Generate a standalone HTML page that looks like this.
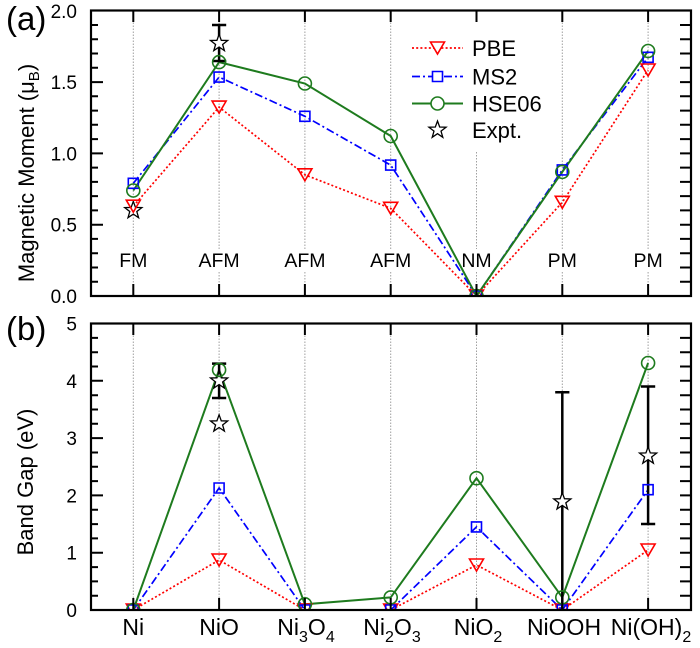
<!DOCTYPE html>
<html><head><meta charset="utf-8"><style>
html,body{margin:0;padding:0;background:#fff;}
svg{display:block;font-family:"Liberation Sans",Arial,sans-serif;}
</style></head><body>
<svg width="700" height="648" viewBox="0 0 700 648" xmlns="http://www.w3.org/2000/svg">
<defs>
<clipPath id="ca"><rect x="91" y="10.5" width="600" height="285.5"/></clipPath>
<clipPath id="cb"><rect x="91" y="323.5" width="600" height="286.5"/></clipPath>
</defs>
<rect width="700" height="648" fill="#fff"/>

<!-- ===== Panel (a) ===== -->
<g stroke="#a0a0a0" stroke-width="1" stroke-dasharray="1.5 1.5" fill="none">
<path d="M133.3 10.5V249M133.3 272V296M219.1 10.5V249M219.1 272V296M304.9 10.5V249M304.9 272V296M390.7 10.5V249M390.7 272V296M476.5 152V249M476.5 272V296M562.3 10.5V249M562.3 272V296M648.1 10.5V249M648.1 272V296"/>
</g>
<g font-size="19.5" text-anchor="middle" fill="#000">
<text x="133.3" y="267">FM</text>
<text x="219.1" y="267">AFM</text>
<text x="304.9" y="267">AFM</text>
<text x="390.7" y="267">AFM</text>
<text x="476.5" y="267">NM</text>
<text x="562.3" y="267">PM</text>
<text x="648.1" y="267">PM</text>
</g>

<g clip-path="url(#ca)" fill="none">
<polyline stroke="#ff0000" stroke-width="1.7" stroke-dasharray="2 2.2" points="133.3,206.2 219.1,107.1 304.9,174.8 390.7,208.3 476.5,296 562.3,202.3 648.1,70"/>
<polyline stroke="#0000ff" stroke-width="1.7" stroke-dasharray="8 3 2 3" points="133.3,183.3 219.1,77.1 304.9,116.3 390.7,165.1 476.5,296 562.3,169.9 648.1,57.3"/>
<polyline stroke="#1e7b1e" stroke-width="2" points="133.3,190.5 219.1,62.1 304.9,83.5 390.7,136 476.5,296 562.3,171.9 648.1,51"/>
<!-- error bar -->
<g stroke="#000" stroke-width="2.5">
<path d="M219.1 25V61M212 25H226.2M212 61H226.2"/>
</g>
<!-- stars -->
<g fill="#fff" stroke="#000" stroke-width="1.3">
<path transform="translate(133.3,210.4)" d="M0,-9 L2.18,-2.99 L8.56,-2.78 L3.52,1.14 L5.29,7.28 L0,3.7 L-5.29,7.28 L-3.52,1.14 L-8.56,-2.78 L-2.18,-2.99Z"/>
<path transform="translate(219.1,43.3)" d="M0,-9 L2.18,-2.99 L8.56,-2.78 L3.52,1.14 L5.29,7.28 L0,3.7 L-5.29,7.28 L-3.52,1.14 L-8.56,-2.78 L-2.18,-2.99Z"/>
</g>
<!-- PBE triangles -->
<g stroke="#ff0000" stroke-width="1.6">
<path d="M126.3 200.2h14l-7 12z M212.1 101.1h14l-7 12z M297.9 168.8h14l-7 12z M383.7 202.3h14l-7 12z M469.5 290h14l-7 12z M555.3 196.3h14l-7 12z M641.1 64h14l-7 12z"/>
</g>
<!-- MS2 squares -->
<g stroke="#0000ff" stroke-width="1.6">
<path d="M128.3 178.3h10v10h-10z M214.1 72.1h10v10h-10z M299.9 111.3h10v10h-10z M385.7 160.1h10v10h-10z M471.5 291h10v10h-10z M557.3 164.9h10v10h-10z M643.1 52.3h10v10h-10z"/>
</g>
<!-- HSE circles -->
<g stroke="#1e7b1e" stroke-width="1.6">
<circle cx="133.3" cy="190.5" r="6.5"/><circle cx="219.1" cy="62.1" r="6.5"/><circle cx="304.9" cy="83.5" r="6.5"/><circle cx="390.7" cy="136" r="6.5"/><circle cx="476.5" cy="296" r="6.5"/><circle cx="562.3" cy="171.9" r="6.5"/><circle cx="648.1" cy="51" r="6.5"/>
</g>
</g>

<!-- legend -->
<g>
<path d="M412 48H463" stroke="#ff0000" stroke-width="1.7" stroke-dasharray="2 2.2"/>
<path d="M430.5 42h14l-7 12z" fill="#fff" stroke="#ff0000" stroke-width="1.6"/>
<path d="M412 76.5H463" stroke="#0000ff" stroke-width="1.7" stroke-dasharray="8 3 2 3"/>
<path d="M432.5 71.5h10v10h-10z" fill="#fff" stroke="#0000ff" stroke-width="1.6"/>
<path d="M412 103.5H463" stroke="#1e7b1e" stroke-width="2"/>
<circle cx="437.5" cy="103.5" r="6.5" fill="#fff" stroke="#1e7b1e" stroke-width="1.6"/>
<path transform="translate(437.5,130)" fill="#fff" stroke="#000" stroke-width="1.3" d="M0,-9 L2.18,-2.99 L8.56,-2.78 L3.52,1.14 L5.29,7.28 L0,3.7 L-5.29,7.28 L-3.52,1.14 L-8.56,-2.78 L-2.18,-2.99Z"/>
<g font-size="22" fill="#000">
<text x="472" y="56">PBE</text>
<text x="472" y="84.5">MS2</text>
<text x="472" y="111.5">HSE06</text>
<text x="472" y="138">Expt.</text>
</g>
</g>

<!-- frame & ticks (a) -->
<g stroke="#000" stroke-width="2" fill="none">
<path d="M98 281.7H91M98 267.5H91M98 253.2H91M98 238.9H91M103 224.7H91M98 210.4H91M98 196.1H91M98 181.9H91M98 167.6H91M103 153.4H91M98 139.1H91M98 124.8H91M98 110.6H91M98 96.3H91M103 82.1H91M98 67.8H91M98 53.5H91M98 39.3H91M98 25H91"/>
<path d="M680 281.7H691M680 267.5H691M680 253.2H691M680 238.9H691M680 224.7H691M680 210.4H691M680 196.1H691M680 181.9H691M680 167.6H691M680 153.4H691M680 139.1H691M680 124.8H691M680 110.6H691M680 96.3H691M680 82.1H691M680 67.8H691M680 53.5H691M680 39.3H691M680 25H691"/>
<path d="M133.3 10.5V22M219.1 10.5V22M304.9 10.5V22M390.7 10.5V22M476.5 10.5V22M562.3 10.5V22M648.1 10.5V22"/>
<path d="M133.3 296V284M219.1 296V284M304.9 296V284M390.7 296V284M476.5 296V284M562.3 296V284M648.1 296V284"/>
</g>
<rect x="91" y="10.5" width="600" height="285.5" fill="none" stroke="#000" stroke-width="2.2"/>
<g font-size="19" text-anchor="end" fill="#000">
<text x="77" y="303">0.0</text>
<text x="77" y="231.7">0.5</text>
<text x="77" y="160.4">1.0</text>
<text x="77" y="89.1">1.5</text>
<text x="77" y="17.8">2.0</text>
</g>
<text transform="translate(34,173) rotate(-90)" font-size="22" text-anchor="middle" fill="#000">Magnetic Moment (μ<tspan font-size="15" dy="5">B</tspan><tspan dy="-5">)</tspan></text>
<text x="6" y="30" font-size="33" fill="#000">(a)</text>

<!-- ===== Panel (b) ===== -->
<g stroke="#a0a0a0" stroke-width="1" stroke-dasharray="1.5 1.5" fill="none">
<path d="M133.3 323.5V610M219.1 323.5V610M304.9 323.5V610M390.7 323.5V610M476.5 323.5V610M562.3 323.5V610M648.1 323.5V610"/>
</g>
<g clip-path="url(#cb)" fill="none">
<polyline stroke="#ff0000" stroke-width="1.7" stroke-dasharray="2 2.2" points="133.3,610 219.1,560 304.9,610 390.7,610 476.5,565 562.3,610 648.1,550"/>
<polyline stroke="#0000ff" stroke-width="1.7" stroke-dasharray="8 3 2 3" points="133.3,610 219.1,488 304.9,610 390.7,610 476.5,526.9 562.3,610 648.1,489.7"/>
<polyline stroke="#1e7b1e" stroke-width="2" points="133.3,610 219.1,369.9 304.9,604.3 390.7,597.4 476.5,478.2 562.3,597.4 648.1,363"/>
<g stroke="#000" stroke-width="2.5">
<path d="M219.1 363.6V398M212 363.6H226.2M212 398H226.2"/>
<path d="M562.3 392.3V612M555.2 392.3H569.4"/>
<path d="M648.1 386.5V524M641 386.5H655.2M641 524H655.2"/>
</g>
<g fill="#fff" stroke="#000" stroke-width="1.3">
<path transform="translate(219.1,380.8)" d="M0,-9 L2.18,-2.99 L8.56,-2.78 L3.52,1.14 L5.29,7.28 L0,3.7 L-5.29,7.28 L-3.52,1.14 L-8.56,-2.78 L-2.18,-2.99Z"/>
<path transform="translate(219.1,423.8)" d="M0,-9 L2.18,-2.99 L8.56,-2.78 L3.52,1.14 L5.29,7.28 L0,3.7 L-5.29,7.28 L-3.52,1.14 L-8.56,-2.78 L-2.18,-2.99Z"/>
<path transform="translate(562.3,501.7)" d="M0,-9 L2.18,-2.99 L8.56,-2.78 L3.52,1.14 L5.29,7.28 L0,3.7 L-5.29,7.28 L-3.52,1.14 L-8.56,-2.78 L-2.18,-2.99Z"/>
<path transform="translate(648.1,455.9)" d="M0,-9 L2.18,-2.99 L8.56,-2.78 L3.52,1.14 L5.29,7.28 L0,3.7 L-5.29,7.28 L-3.52,1.14 L-8.56,-2.78 L-2.18,-2.99Z"/>
</g>
<g stroke="#ff0000" stroke-width="1.6">
<path d="M126.3 604h14l-7 12z M212.1 554h14l-7 12z M297.9 604h14l-7 12z M383.7 604h14l-7 12z M469.5 559h14l-7 12z M555.3 604h14l-7 12z M641.1 544h14l-7 12z"/>
</g>
<g stroke="#0000ff" stroke-width="1.6">
<path d="M128.3 605h10v10h-10z M214.1 483h10v10h-10z M299.9 605h10v10h-10z M385.7 605h10v10h-10z M471.5 521.9h10v10h-10z M557.3 605h10v10h-10z M643.1 484.7h10v10h-10z"/>
</g>
<g stroke="#1e7b1e" stroke-width="1.6">
<circle cx="133.3" cy="610" r="6.5"/><circle cx="219.1" cy="369.9" r="6.5"/><circle cx="304.9" cy="604.3" r="6.5"/><circle cx="390.7" cy="597.4" r="6.5"/><circle cx="476.5" cy="478.2" r="6.5"/><circle cx="562.3" cy="597.4" r="6.5"/><circle cx="648.1" cy="363" r="6.5"/>
</g>
</g>

<g stroke="#000" stroke-width="2" fill="none">
<path d="M98 595.7H91M98 581.4H91M98 567.1H91M103 552.7H91M98 538.4H91M98 524.1H91M98 509.8H91M103 495.4H91M98 481.1H91M98 466.8H91M98 452.5H91M103 438.1H91M98 423.8H91M98 409.5H91M98 395.2H91M103 380.8H91M98 366.5H91M98 352.2H91M98 337.9H91"/>
<path d="M680 595.7H691M680 581.4H691M680 567.1H691M680 552.7H691M680 538.4H691M680 524.1H691M680 509.8H691M680 495.4H691M680 481.1H691M680 466.8H691M680 452.5H691M680 438.1H691M680 423.8H691M680 409.5H691M680 395.2H691M680 380.8H691M680 366.5H691M680 352.2H691M680 337.9H691"/>
<path d="M133.3 323.5V335M219.1 323.5V335M304.9 323.5V335M390.7 323.5V335M476.5 323.5V335M562.3 323.5V335M648.1 323.5V335"/>
<path d="M133.3 610V598M219.1 610V598M304.9 610V598M390.7 610V598M476.5 610V598M562.3 610V598M648.1 610V598"/>
</g>
<rect x="91" y="323.5" width="600" height="286.5" fill="none" stroke="#000" stroke-width="2.2"/>
<g font-size="19" text-anchor="end" fill="#000">
<text x="77" y="617">0</text>
<text x="77" y="559.7">1</text>
<text x="77" y="502.4">2</text>
<text x="77" y="445.1">3</text>
<text x="77" y="387.8">4</text>
<text x="77" y="330.5">5</text>
</g>
<text transform="translate(33,482) rotate(-90)" font-size="22" text-anchor="middle" fill="#000">Band Gap (eV)</text>
<text x="6" y="340" font-size="33" fill="#000">(b)</text>

<g font-size="23" text-anchor="middle" fill="#000">
<text x="133.3" y="635">Ni</text>
<text x="219.1" y="635">NiO</text>
<text x="306" y="635">Ni<tspan font-size="16" dy="7">3</tspan><tspan dy="-7">O</tspan><tspan font-size="16" dy="7">4</tspan></text>
<text x="392" y="635">Ni<tspan font-size="16" dy="7">2</tspan><tspan dy="-7">O</tspan><tspan font-size="16" dy="7">3</tspan></text>
<text x="478" y="635">NiO<tspan font-size="16" dy="7">2</tspan></text>
<text x="564" y="635">NiOOH</text>
<text x="651" y="635">Ni(OH)<tspan font-size="16" dy="7">2</tspan></text>
</g>
</svg>
</body></html>
